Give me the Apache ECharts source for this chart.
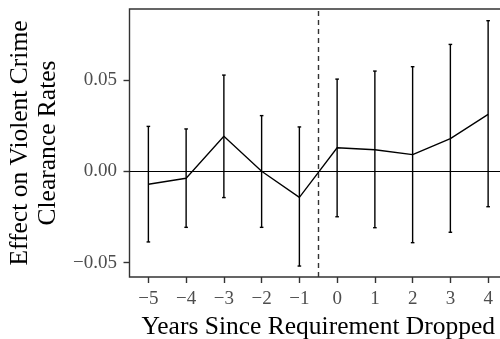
<!DOCTYPE html>
<html><head><meta charset="utf-8">
<script src="https://cdn.jsdelivr.net/npm/echarts@6/dist/echarts.min.js"></script>
<style>html,body{margin:0;padding:0;background:#fff}#c{width:500px;height:339px}</style>
</head><body><div id="c"></div>
<script>
const years = [-5, -4, -3, -2, -1, 0, 1, 2, 3, 4];
const estimates = [-0.0071, -0.0038, 0.0192, 0.0000, -0.0143, 0.0129, 0.0118, 0.0091, 0.0179, 0.0312];
const lowerCI = [-0.0387, -0.0307, -0.0144, -0.0307, -0.0519, -0.0249, -0.0309, -0.0391, -0.0334, -0.0194];
const upperCI = [0.0246, 0.0232, 0.0527, 0.0305, 0.0243, 0.0505, 0.0549, 0.0573, 0.0695, 0.0825];
const xTicks = [-5, -4, -3, -2, -1, 0, 1, 2, 3, 4];
const yTicks = [-0.05, 0, 0.05];
const cutoff = -0.5;

const fmtMinus = s => String(s).replace('-', '\u2212');
const chart = echarts.init(document.getElementById('c'), null, {renderer: 'canvas'});
const font = 'Liberation Serif';
chart.setOption({
  animation: false,
  grid: {left: 129.5, top: 9, right: -7, bottom: 62, show: true, borderColor: '#333', borderWidth: 1.4,
    backgroundColor: '#fff', outerBoundsMode: 'none', containLabel: false},
  xAxis: {
    type: 'value', min: -5.5, max: 4.5,
    name: 'Years Since Requirement Dropped', nameLocation: 'middle', nameGap: 31,
    nameTextStyle: {fontFamily: font, fontSize: 25.5, color: '#000'},
    axisLine: {show: false, onZero: false},
    axisTick: {show: true, length: 6, lineStyle: {color: '#333', width: 1.4}, customValues: xTicks},
    axisLabel: {fontFamily: font, fontSize: 19, color: '#4d4d4d', margin: 13, customValues: xTicks, formatter: v => fmtMinus(v)},
    splitLine: {show: false}
  },
  yAxis: {
    type: 'value', min: -0.0579, max: 0.0889,
    name: 'Effect on Violent Crime\nClearance Rates', nameLocation: 'middle', nameGap: 64, nameRotate: 90,
    nameTextStyle: {fontFamily: font, fontSize: 25.5, color: '#000', lineHeight: 28},
    axisLine: {show: false, onZero: false},
    axisTick: {show: true, length: 6, lineStyle: {color: '#333', width: 1.4}, customValues: yTicks},
    axisLabel: {fontFamily: font, fontSize: 19, color: '#4d4d4d', margin: 12.5, customValues: yTicks,
      formatter: v => fmtMinus(v.toFixed(2))},
    splitLine: {show: false}
  },
  series: [
    {
      type: 'line', data: years.map((x, i) => [x, estimates[i]]),
      symbol: 'none', lineStyle: {color: '#000', width: 1.3}, z: 3,
      markLine: {
        silent: true, symbol: 'none', label: {show: false},
        data: [
          {yAxis: 0, lineStyle: {color: '#000', width: 1.1, type: 'solid'}},
          {xAxis: cutoff, lineStyle: {color: '#333', width: 1.4, type: [5, 4]}}
        ]
      }
    },
    {
      type: 'custom', z: 4,
      data: years.map((x, i) => [x, lowerCI[i], upperCI[i]]),
      renderItem: (params, api) => {
        const lo = api.coord([api.value(0), api.value(1)]);
        const hi = api.coord([api.value(0), api.value(2)]);
        const w = 1.8;
        const st = {stroke: '#000', lineWidth: 1.4};
        return {type: 'group', children: [
          {type: 'line', shape: {x1: lo[0], y1: lo[1], x2: hi[0], y2: hi[1]}, style: st},
          {type: 'line', shape: {x1: lo[0] - w, y1: lo[1], x2: lo[0] + w, y2: lo[1]}, style: st},
          {type: 'line', shape: {x1: hi[0] - w, y1: hi[1], x2: hi[0] + w, y2: hi[1]}, style: st}
        ]};
      }
    }
  ]
});
</script></body></html>
